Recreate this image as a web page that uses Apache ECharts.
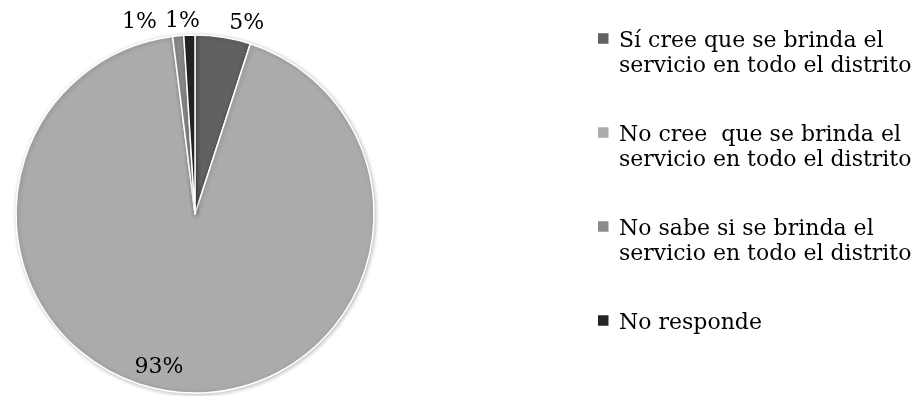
<!DOCTYPE html>
<html>
<head>
<meta charset="utf-8">
<script src="https://cdn.jsdelivr.net/npm/echarts@6/dist/echarts.min.js"></script>
<style>
html, body { margin: 0; padding: 0; background: #fff; }
#chart { width: 921px; height: 396px; }
</style>
</head>
<body>
<div id="chart"></div>
<script>
// categorias y valores
var categories = [
	'Sí cree que se brinda el\nservicio en todo el distrito',
	'No cree  que se brinda el\nservicio en todo el distrito',
	'No sabe si se brinda el\nservicio en todo el distrito',
	'No responde'
];
var values = [5, 93, 1, 1];
var colors = ['#616161', '#ababab', '#8b8b8b', '#242424'];

// ajustes de etiqueta por porcion (solo posicion del texto)
var labelTweaks = [
	{ len: 14, len2: 4, pos: 'outside' },
	{ len: -25, len2: -3, pos: 'outside' },
	{ len: 14, len2: 20, pos: 'outside' },
	{ len: 14, len2: -11, pos: 'outside' }
];

var FONT = 'DejaVu Serif';
// cuadro arriba, punto invisible abajo para alinear con la primera linea
var iconTop = 'path://M0,0h10v10h-10z M13.59,34.99h0.01v0.01h-0.01z';

var chart = echarts.init(document.getElementById('chart'));

var data = categories.map(function (name, i) {
	return {
		name: name,
		value: values[i],
		itemStyle: { color: colors[i] },
		label: { position: labelTweaks[i].pos, distanceToLabelLine: 0 },
		labelLine: { show: false, length: labelTweaks[i].len, length2: labelTweaks[i].len2 }
	};
});

var option = {
	animation: false,
	legend: {
		orient: 'vertical',
		left: 596,
		top: 29,
		padding: 0,
		itemGap: 44,
		itemWidth: 17,
		itemHeight: 43.75,
		icon: iconTop,
		selectedMode: false,
		data: categories,
		formatter: function (name) {
			return name.indexOf('\n') < 0 ? name + '\n ' : name;
		},
		textStyle: {
			fontFamily: FONT,
			fontSize: 22,
			lineHeight: 25,
			color: '#000'
		}
	},
	series: [{
		type: 'pie',
		center: [195, 214],
		radius: 179,
		startAngle: 90,
		clockwise: true,
		avoidLabelOverlap: false,
		itemStyle: {
			borderColor: '#fff',
			borderWidth: 1.5,
			shadowBlur: 4,
			shadowColor: 'rgba(0,0,0,0.25)',
			shadowOffsetX: 1,
			shadowOffsetY: 1
		},
		label: {
			formatter: '{d}%',
			fontFamily: FONT,
			fontSize: 22,
			color: '#000'
		},
		emphasis: { disabled: true },
		data: data
	}]
};

chart.setOption(option);
</script>
</body>
</html>
